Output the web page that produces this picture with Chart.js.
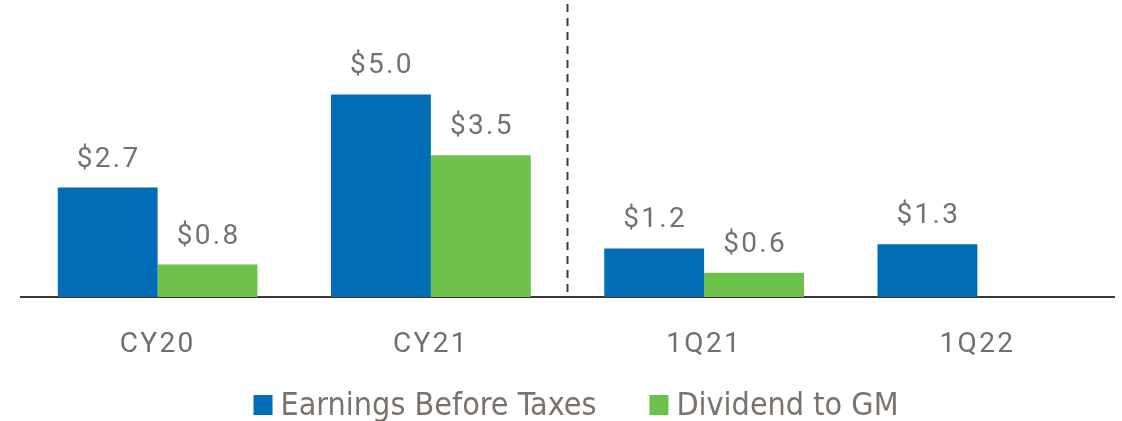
<!DOCTYPE html>
<html>
<head>
<meta charset="utf-8">
<script src="https://cdn.jsdelivr.net/npm/chart.js@4/dist/chart.umd.min.js"></script>
<style>
  html, body { margin:0; padding:0; background:#fff; }
  #wrap { width:1122px; height:421px; }
</style>
</head>
<body>
<div id="wrap"><canvas id="c" width="1122" height="421"></canvas></div>
<script>
// ---- data -----------------------------------------------------------------
const categories = ["CY20", "CY21", "1Q21", "1Q22"];
const ebt        = [2.7, 5.0, 1.2, 1.3];     // Earnings Before Taxes
const dividend   = [0.8, 3.5, 0.6, null];    // Dividend to GM (none for 1Q22)
const seriesNames = ["Earnings Before Taxes", "Dividend to GM"];

const BLUE = "#006db6", GREEN = "#6cc24a";
const FONT = "Roboto, 'Noto Sans', sans-serif";
const NARROW = "'Liberation Sans Narrow', 'DejaVu Sans Condensed', sans-serif";
const SPACING = "2.3px";   // la fuente original es tipo DIN, mas abierta

const tracking = {
  id: "tracking",
  beforeUpdate(chart){ chart.ctx.letterSpacing = SPACING; },
  beforeDraw(chart){ chart.ctx.letterSpacing = SPACING; }
};

// etiquetas "$x.x" encima de cada barra
const valueLabels = {
  id: "valueLabels",
  afterDatasetsDraw(chart){
    const ctx = chart.ctx;
    ctx.save();
    ctx.font = "28px " + FONT;
    ctx.fillStyle = "#727272";
    ctx.textAlign = "center";
    ctx.textBaseline = "alphabetic";
    chart.data.datasets.forEach((ds, i) => {
      chart.getDatasetMeta(i).data.forEach((bar, j) => {
        const v = ds.data[j];
        if (v == null) return;
        ctx.fillText("$" + v.toFixed(1), bar.x + 1, bar.y - 21);
      });
    });
    ctx.restore();
  }
};

// separador punteado entre anual y trimestral
const divider = {
  id: "divider",
  afterDraw(chart){
    const x = chart.scales.x;
    const pos = (x.getPixelForValue(1) + x.getPixelForValue(2)) / 2;
    const ctx = chart.ctx;
    ctx.save();
    ctx.strokeStyle = "#3d3d3d";
    ctx.lineWidth = 2;
    ctx.setLineDash([8, 6]);
    ctx.beginPath();
    ctx.moveTo(pos, 4);
    ctx.lineTo(pos, chart.chartArea.bottom - 4);
    ctx.stroke();
    ctx.restore();
  }
};

// leyenda propia: fuente estrecha y cuadros pegados al texto
const legendRow = {
  id: "legendRow",
  afterDraw(chart){
    const ctx = chart.ctx;
    const box = 19, gapText = 8, gapItem = 53, centerX = 576, boxTop = 395, baseY = 415;
    ctx.save();
    ctx.letterSpacing = "0px";
    ctx.font = "32px " + NARROW;
    ctx.textBaseline = "alphabetic";
    const items = chart.data.datasets.map(ds => ({ text: ds.label, color: ds.backgroundColor, w: ctx.measureText(ds.label).width }));
    const total = items.reduce((s, it) => s + box + gapText + it.w, 0) + gapItem * (items.length - 1);
    let x = centerX - total / 2;
    items.forEach(it => {
      ctx.fillStyle = it.color;
      ctx.fillRect(x, boxTop, box, box + 1);
      ctx.fillStyle = "#7a736d";
      ctx.fillText(it.text, x + box + gapText, baseY);
      x += box + gapText + it.w + gapItem;
    });
    ctx.restore();
  }
};

new Chart(document.getElementById("c"), {
  type: "bar",
  data: {
    labels: categories,
    datasets: [
      { label: seriesNames[0], data: ebt, backgroundColor: BLUE },
      { label: seriesNames[1], data: dividend, backgroundColor: GREEN }
    ]
  },
  options: {
    responsive: false,
    animation: false,
    layout: { padding: { left: 21, right: 8, top: 0, bottom: 28.4 } },
    datasets: { bar: { barPercentage: 1, categoryPercentage: 0.731 } },
    scales: {
      x: {
        grid: { display: false, drawTicks: false },
        border: { color: "#3a3735", width: 2 },
        ticks: { color: "#6f6f6f", font: { family: FONT, size: 28 }, padding: 31 }
      },
      y: { display: false, min: 0, max: 7.33 }
    },
    plugins: {
      legend: { display: false },
      tooltip: { enabled: false }
    }
  },
  plugins: [tracking, valueLabels, divider, legendRow]
});
</script>
</body>
</html>
